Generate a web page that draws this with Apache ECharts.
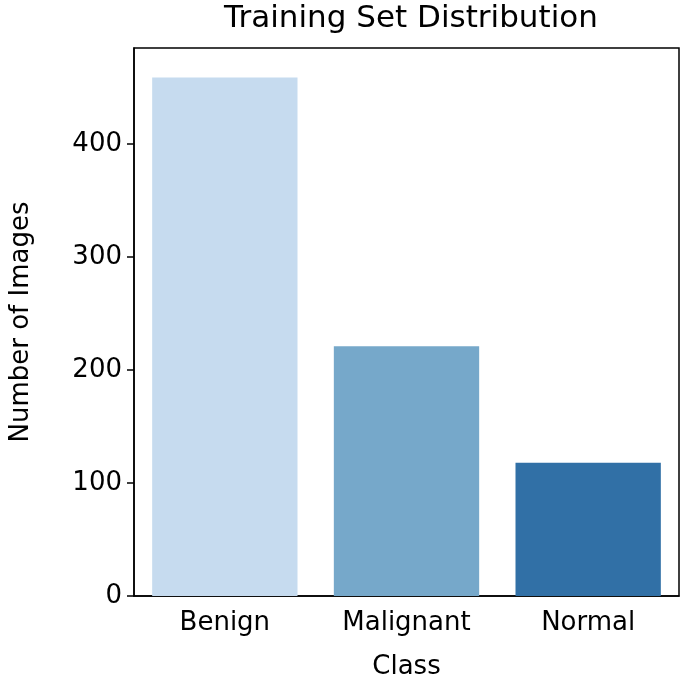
<!DOCTYPE html>
<html><head><meta charset="utf-8">
<script src="https://cdn.jsdelivr.net/npm/echarts@6/dist/echarts.min.js"></script>
<style>html,body{margin:0;padding:0;background:#fff}#c{width:685px;height:691px}</style>
</head><body><div id="c"></div>
<script>
const categories = ["Benign", "Malignant", "Normal"];
const counts = [459, 221, 118];
const colors = ["#c6dbef", "#76a8ca", "#3170a6"];
const yTicks = [0, 100, 200, 300, 400];
const chart = echarts.init(document.getElementById('c'));
const font = 'DejaVu Sans';
chart.setOption({
  animation: false,
  title: { text: 'Training Set Distribution', left: 406, top: -2, textAlign: 'center',
    textStyle: { fontFamily: font, fontSize: 31, fontWeight: 'normal', color: '#000' } },
  grid: { left: 133, right: 6, top: 48, bottom: 95, show: true, borderColor: '#000', borderWidth: 1.5 },
  xAxis: { type: 'category', data: categories, name: 'Class', nameLocation: 'middle', nameGap: 58,
    nameTextStyle: { fontFamily: font, fontSize: 26, color: '#000' },
    axisLine: { lineStyle: { color: '#000', width: 1.5 } },
    axisTick: { alignWithLabel: true, length: 7, lineStyle: { color: '#000', width: 1.5 } },
    axisLabel: { fontFamily: font, fontSize: 26, color: '#000', margin: 14 } },
  yAxis: { type: 'value', min: 0, max: 485, name: 'Number of Images', nameLocation: 'middle', nameGap: 100,
    nameTextStyle: { fontFamily: font, fontSize: 26, color: '#000' },
    splitLine: { show: false },
    axisLine: { show: true, lineStyle: { color: '#000', width: 1.5 } },
    axisTick: { show: true, length: 7, customValues: yTicks, lineStyle: { color: '#000', width: 1.5 } },
    axisLabel: { fontFamily: font, fontSize: 26, color: '#000', margin: 12, customValues: yTicks } },
  series: [{ type: 'bar', barWidth: '80%',
    data: counts.map((v, i) => ({ value: v, itemStyle: { color: colors[i] } })) }]
});
</script></body></html>
